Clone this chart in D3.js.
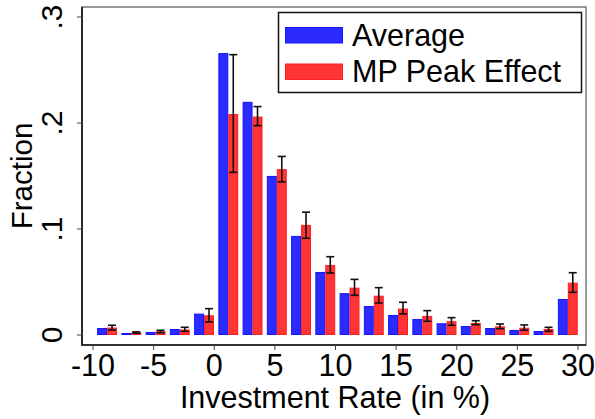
<!DOCTYPE html>
<html>
<head>
<meta charset="utf-8">
<script src="https://cdn.jsdelivr.net/npm/d3@7"></script>
<style>
  html, body { margin: 0; padding: 0; background: #fff; }
  svg { display: block; font-family: "Liberation Sans", Arial, sans-serif; }
</style>
</head>
<body>
<svg id="chart" width="595" height="419"></svg>
<script>
// Histogram bins of the investment rate (left edge of each 2-point bin, in %)
const binStarts = [-10, -8, -6, -4, -2, 0, 2, 4, 6, 8, 10, 12, 14, 16, 18, 20, 22, 24, 26, 28];
// Share of observations in each bin
const averageShare = [0.0061, 0.0014, 0.0024, 0.0052, 0.0197, 0.2655, 0.2195, 0.1496, 0.093, 0.059,
                      0.039, 0.0269, 0.0184, 0.0146, 0.0106, 0.008, 0.0061, 0.0042, 0.0033, 0.0335];
const peakShare    = [0.0065, 0.002, 0.003, 0.0047, 0.0181, 0.208, 0.2056, 0.156, 0.1034, 0.0655,
                      0.0442, 0.0366, 0.0244, 0.0175, 0.0125, 0.0109, 0.0077, 0.0064, 0.0052, 0.0489];
// Confidence band around the peak-effect shares
const peakLow      = [0.0042, 0.0012, 0.0017, 0.003, 0.0118, 0.153, 0.197, 0.144, 0.0908, 0.058,
                      0.037, 0.0297, 0.0194, 0.0125, 0.0087, 0.0093, 0.0055, 0.004, 0.003, 0.0398];
const peakHigh     = [0.0087, 0.0025, 0.004, 0.0068, 0.0244, 0.264, 0.215, 0.168, 0.1154, 0.0734,
                      0.052, 0.0442, 0.0304, 0.0225, 0.0159, 0.013, 0.0099, 0.009, 0.0068, 0.0583];
// Axis ticks
const xTicks = [-10, -5, 0, 5, 10, 15, 20, 25, 30];
const xTickLabels = ["-10", "-5", "0", "5", "10", "15", "20", "25", "30"];
const yTicks = [0, 0.1, 0.2, 0.3];
const yTickLabels = ["0", ".1", ".2", ".3"];
const seriesNames = ["Average", "MP Peak Effect"];

const svg = d3.select("#chart");
const frame = { left: 82, right: 586, top: 7, bottom: 345 };

const x = d3.scaleLinear().domain([-10, 30]).range([92.5, 577.5]);
const y = d3.scaleLinear().domain([0, 0.3]).range([334.5, 16.5]);

const blue = { fill: "#2b2bff", stroke: "#1414ff" };
const red = { fill: "#ff3434", stroke: "#ff1e1e" };

// Bars: average on the left half of each bin, peak effect on the right
const blueOff = 0.38, redOff = 1.2, barW = 0.82;
const g = svg.append("g");

g.selectAll("rect.avg")
  .data(binStarts.map((b, i) => ({ b, v: averageShare[i] })))
  .join("rect")
  .attr("class", "avg")
  .attr("x", d => x(d.b + blueOff) + 0.5)
  .attr("width", d => x(d.b + blueOff + barW) - x(d.b + blueOff) - 1)
  .attr("y", d => y(d.v) + 0.5)
  .attr("height", d => y(0) - y(d.v) - 0.5)
  .attr("fill", blue.fill)
  .attr("stroke", blue.stroke)
  .attr("stroke-width", 1);

g.selectAll("rect.peak")
  .data(binStarts.map((b, i) => ({ b, v: peakShare[i] })))
  .join("rect")
  .attr("class", "peak")
  .attr("x", d => x(d.b + redOff) + 0.5)
  .attr("width", d => x(d.b + redOff + barW) - x(d.b + redOff) - 1)
  .attr("y", d => y(d.v) + 0.5)
  .attr("height", d => y(0) - y(d.v) - 0.5)
  .attr("fill", red.fill)
  .attr("stroke", red.stroke)
  .attr("stroke-width", 1);

// Error bars on the peak-effect bars
const errs = binStarts.map((b, i) => ({ cx: x(b + redOff + barW / 2), lo: peakLow[i], hi: peakHigh[i] }));
const eg = g.append("g").attr("stroke", "#111").attr("stroke-width", 1.6);
eg.selectAll("line.v").data(errs).join("line")
  .attr("x1", d => d.cx).attr("x2", d => d.cx)
  .attr("y1", d => y(d.lo)).attr("y2", d => y(d.hi));
eg.selectAll("line.hi").data(errs).join("line")
  .attr("x1", d => d.cx - 4).attr("x2", d => d.cx + 4)
  .attr("y1", d => y(d.hi)).attr("y2", d => y(d.hi));
eg.selectAll("line.lo").data(errs).join("line")
  .attr("x1", d => d.cx - 4).attr("x2", d => d.cx + 4)
  .attr("y1", d => y(d.lo)).attr("y2", d => y(d.lo));

// Plot frame
svg.append("rect")
  .attr("x", frame.left).attr("y", frame.top)
  .attr("width", frame.right - frame.left).attr("height", frame.bottom - frame.top)
  .attr("fill", "none").attr("stroke", "#555").attr("stroke-width", 1.2);
svg.append("path")
  .attr("d", `M${frame.left},${frame.top}V${frame.bottom}H${frame.right}`)
  .attr("fill", "none").attr("stroke", "#111").attr("stroke-width", 1.6);

// X axis
const xAxis = d3.axisBottom(x).tickValues(xTicks).tickSize(5).tickPadding(6)
  .tickFormat((d, i) => xTickLabels[i]);
const xg = svg.append("g").attr("transform", `translate(0,${frame.bottom})`).call(xAxis);
xg.select(".domain").remove();
xg.selectAll(".tick line").attr("stroke", "#444");
xg.selectAll(".tick text")
  .attr("font-size", 30.5).attr("fill", "#000")
  .attr("dy", null).attr("y", 31);

// Y axis (labels rotated to read upward)
const yAxis = d3.axisLeft(y).tickValues(yTicks).tickSize(5).tickFormat((d, i) => yTickLabels[i]);
const yg = svg.append("g").attr("transform", `translate(${frame.left},0)`).call(yAxis);
yg.select(".domain").remove();
yg.selectAll(".tick line").attr("stroke", "#444");
yg.selectAll(".tick text")
  .attr("x", null).attr("dy", null)
  .attr("text-anchor", "middle")
  .attr("transform", "translate(-20,0) rotate(-90)")
  .attr("font-size", 30).attr("fill", "#000");

// Axis titles
svg.append("text")
  .attr("x", (frame.left + frame.right) / 2 + 1).attr("y", 408)
  .attr("text-anchor", "middle").attr("font-size", 30.5)
  .text("Investment Rate (in %)");
svg.append("text")
  .attr("transform", `translate(31.5,${(frame.top + frame.bottom) / 2}) rotate(-90)`)
  .attr("text-anchor", "middle").attr("font-size", 29.5)
  .text("Fraction");

// Legend
const lg = svg.append("g");
lg.append("rect").attr("x", 278.5).attr("y", 12.5).attr("width", 303).attr("height", 80)
  .attr("fill", "#fff").attr("stroke", "#111").attr("stroke-width", 1.5);
const keys = [blue, red];
const keyY = [27.5, 64];
seriesNames.forEach((name, i) => {
  lg.append("rect").attr("x", 285.5).attr("y", keyY[i]).attr("width", 57).attr("height", 15.5)
    .attr("fill", keys[i].fill).attr("stroke", keys[i].stroke).attr("stroke-width", 1);
  lg.append("text").attr("x", 352).attr("y", keyY[i] + 18)
    .attr("font-size", 30.5).text(name);
});
</script>
</body>
</html>
